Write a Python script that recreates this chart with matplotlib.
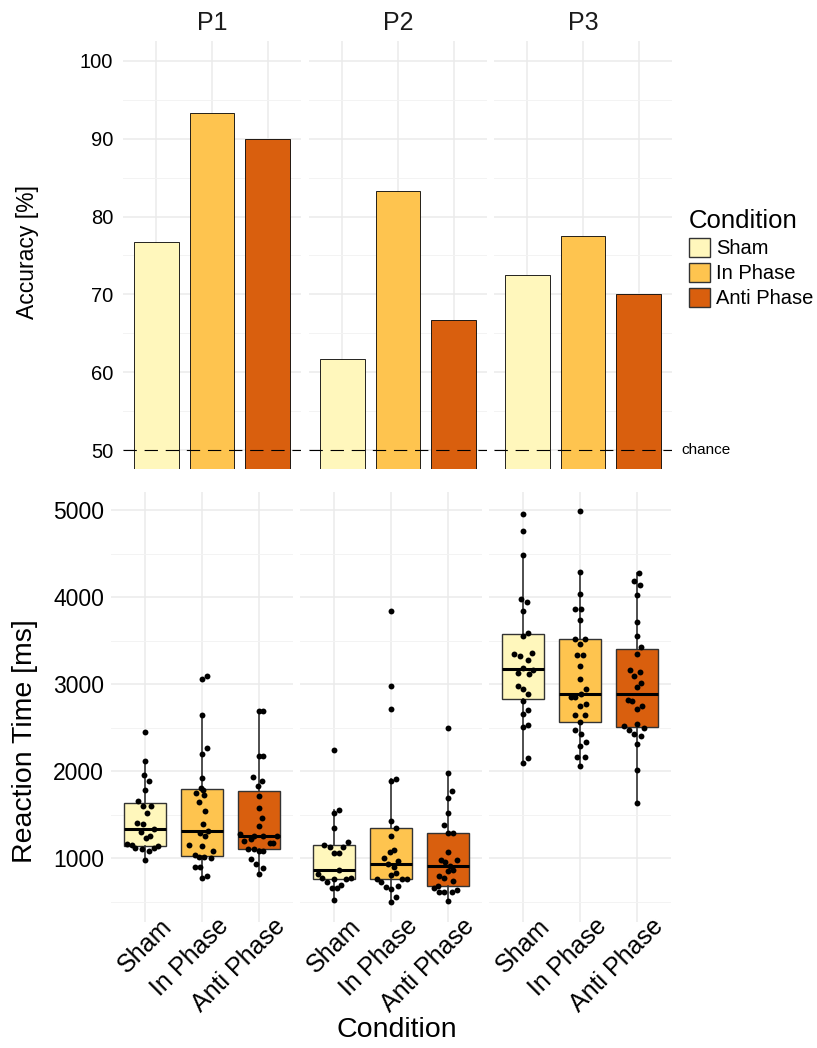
import matplotlib
matplotlib.use('Agg')
import matplotlib.pyplot as plt
import numpy as np
from matplotlib.patches import Patch
from matplotlib.transforms import ScaledTranslation

plt.rcParams['font.family'] = ['Liberation Sans', 'DejaVu Sans']

# --- data ---
participants = ['P1', 'P2', 'P3']
conditions = ['Sham', 'In Phase', 'Anti Phase']
colors = ['#fff7bc', '#fec44f', '#d95f0e']

accuracy_p1 = [76.7, 93.3, 90.0]
accuracy_p2 = [61.7, 83.3, 66.7]
accuracy_p3 = [72.5, 77.5, 70.0]
chance_level = 50

# reaction times [ms]
rt_p1_sham = [2450, 2116, 1959, 1894, 1790, 1663, 1606, 1602, 1518, 1403, 1395, 1337,
              1307, 1261, 1230, 1165, 1153, 1138, 1119, 1115, 1107, 1088, 985]
rt_p1_in = [770, 800, 896, 904, 1000, 1012, 1019, 1043, 1088, 1146, 1157, 1261, 1290,
            1318, 1395, 1541, 1648, 1729, 1756, 1780, 1810, 1924, 2204, 2266, 2641, 3056, 3094]
rt_p1_anti = [2687, 2687, 2181, 2181, 1932, 1830, 1894, 1713, 1579, 1460, 1376, 1280, 1261,
              1261, 1261, 1196, 1222, 1172, 1172, 1107, 1107, 1088, 1088, 992, 935, 889, 820]
rt_p2_sham = [2243, 1560, 1522, 1345, 1184, 1153, 1134, 1134, 1061, 1061, 870, 820, 774,
              774, 760, 760, 724, 697, 659, 659, 521]
rt_p2_in = [3838, 2975, 2710, 1913, 1894, 1433, 1345, 1261, 1096, 1069, 1004, 973, 935,
            896, 827, 812, 762, 762, 762, 724, 686, 666, 647, 559, 494]
rt_p2_anti = [2500, 1982, 1779, 1694, 1518, 1387, 1288, 1288, 1077, 981, 981, 954, 912,
              870, 858, 793, 770, 735, 680, 659, 636, 617, 609, 609, 513]
rt_p3_sham = [4954, 4762, 4482, 3984, 3945, 3838, 3589, 3558, 3351, 3324, 3359, 3282, 3190,
              3128, 3121, 3159, 2975, 2941, 2891, 2806, 2707, 2661, 2534, 2507, 2151, 2093]
rt_p3_in = [4988, 4283, 4034, 3869, 3869, 3734, 3516, 3516, 3466, 3339, 3339, 3210, 3064,
            2941, 2852, 2852, 2891, 2776, 2745, 2641, 2641, 2565, 2477, 2423, 2335, 2285,
            2162, 2162, 2066]
rt_p3_anti = [4279, 4187, 4137, 4030, 3715, 3554, 3428, 3343, 3159, 3140, 3090, 3013, 2967,
              2814, 2802, 2745, 2718, 2546, 2515, 2469, 2500, 2430, 2400, 2315, 2020, 1637]

# horizontal jitter of each point (category units), same order as above
jit_p1_sham = [0, 0, -.02, .06, 0, -.12, -.04, .11, .03, -.15, -.04, .16, -.08, .09, .02,
               -.32, -.23, .23, -.18, .15, -.06, .06, 0]
jit_p1_in = [0, .09, -.04, -.13, .15, .04, -.06, -.13, .19, 0, -.22, .05, -.03, .10, .01,
             .06, -.05, .03, -.10, .02, -.02, 0, 0, .09, 0, 0, .09]
jit_p1_anti = [0, .08, 0, .08, -.10, -.02, .06, .01, 0, .06, 0, -.33, -.09, .08, .31, -.26,
               -.13, .19, .24, -.19, -.09, .01, .08, -.13, -.05, .08, 0]
jit_p2_sham = [0, .09, 0, 0, .25, -.17, -.08, .16, 0, .09, .08, -.29, -.22, .29, 0, .21,
               -.13, .12, -.04, .05, 0]
jit_p2_in = [0, 0, 0, .09, 0, 0, .08, 0, .06, -.02, -.12, .12, -.05, .05, .09, 0, -.25, .19,
             .28, -.17, .12, -.09, 0, .08, 0]
jit_p2_anti = [0, 0, .07, 0, 0, -.06, 0, .09, 0, -.12, .16, -.05, .03, .09, 0, -.15, -.06,
               .09, -.18, -.24, .16, -.15, -.06, .08, 0]
jit_p3_sham = [0, 0, 0, -.04, .06, 0, .08, 0, -.16, -.06, .16, .08, 0, -.09, .10, .17, -.09,
               0, .08, 0, .08, 0, .08, 0, .08, 0]
jit_p3_in = [0, 0, 0, -.08, .02, 0, -.08, .08, 0, -.05, .06, 0, 0, .10, -.15, -.08, .02,
             .10, 0, -.08, .08, 0, -.08, .02, .10, 0, -.06, .08, 0]
jit_p3_anti = [.03, -.05, .06, 0, 0, 0, .07, 0, -.12, .05, -.05, .08, 0, -.16, -.08, .09, 0,
               0, -.22, -.13, .12, -.05, .07, 0, 0, 0]

accuracy = [accuracy_p1, accuracy_p2, accuracy_p3]
rt = [[rt_p1_sham, rt_p1_in, rt_p1_anti],
      [rt_p2_sham, rt_p2_in, rt_p2_anti],
      [rt_p3_sham, rt_p3_in, rt_p3_anti]]
jit = [[jit_p1_sham, jit_p1_in, jit_p1_anti],
       [jit_p2_sham, jit_p2_in, jit_p2_anti],
       [jit_p3_sham, jit_p3_in, jit_p3_anti]]

# --- layout (pixels) ---
W, H = 817, 1048
fig = plt.figure(figsize=(W / 100, H / 100), dpi=100)


def px_axes(left, top, width, height):
    return fig.add_axes([left / W, 1 - (top + height) / H, width / W, height / H])


def minimal(ax):
    for s in ax.spines.values():
        s.set_visible(False)
    ax.tick_params(which='both', length=0, colors='black')
    ax.set_axisbelow(True)
    ax.grid(which='major', color='#ebebeb', linewidth=1.1)
    ax.grid(which='minor', axis='y', color='#f3f3f3', linewidth=0.7)


top_lefts = [123, 309, 494]
bot_lefts = [111, 300, 489]

# top row: accuracy bars
for k, left in enumerate(top_lefts):
    ax = px_axes(left, 41.5, 178, 428)
    minimal(ax)
    ax.bar(range(3), accuracy[k], width=0.8, color=colors, edgecolor='black',
           linewidth=0.6, zorder=2)
    ax.axhline(chance_level, color='black', linewidth=0.8, dashes=(12, 7), zorder=3)
    ax.set_xlim(-0.6, 2.6)
    ax.set_ylim(47.5, 102.5)
    ax.set_xticks([0, 1, 2])
    ax.set_xticklabels([])
    ax.set_yticks(np.arange(50, 101, 10))
    ax.set_yticks(np.arange(55, 100, 10), minor=True)
    ax.tick_params(axis='y', labelsize=14.5, pad=7)
    if k > 0:
        ax.tick_params(axis='y', labelleft=False)
    ax.set_title(participants[k], fontsize=18, pad=8, color='#1a1a1a')
    if k == 2:
        ax.annotate('chance', xy=(1, chance_level), xycoords=('axes fraction', 'data'),
                    xytext=(7, 0), textcoords='offset points', va='center',
                    fontsize=11, annotation_clip=False)

# bottom row: reaction time boxplots + points
for k, left in enumerate(bot_lefts):
    ax = px_axes(left, 491.5, 182, 430.5)
    minimal(ax)
    bp = ax.boxplot(rt[k], positions=[0, 1, 2], widths=0.75, patch_artist=True,
                    showfliers=False, showcaps=False,
                    medianprops=dict(color='black', linewidth=2.2),
                    whiskerprops=dict(color='#333333', linewidth=1.2),
                    boxprops=dict(edgecolor='#333333', linewidth=1.0))
    for patch, c in zip(bp['boxes'], colors):
        patch.set_facecolor(c)
    for i in range(3):
        ax.scatter(i + np.array(jit[k][i]), rt[k][i], s=18, color='black',
                   linewidths=0, zorder=4)
    ax.set_xlim(-0.6, 2.6)
    ax.set_ylim(269, 5213)
    ax.set_yticks(np.arange(1000, 5001, 1000))
    ax.set_yticks(np.arange(500, 5000, 1000), minor=True)
    ax.tick_params(axis='y', labelsize=16.5, pad=5)
    if k > 0:
        ax.tick_params(axis='y', labelleft=False)
    ax.set_xticks([0, 1, 2])
    ax.set_xticklabels(conditions, rotation=45, ha='right', va='top',
                       rotation_mode='anchor', fontsize=18)
    ax.tick_params(axis='x', pad=0)
    shift = ScaledTranslation(14 / 100, 8 / 100, fig.dpi_scale_trans)
    for lab in ax.get_xticklabels():
        lab.set_transform(lab.get_transform() + shift)

# axis titles
fig.text(28 / W, 1 - 252 / H, 'Accuracy [%]', rotation=90, ha='center', va='center',
         fontsize=16.5)
fig.text(25 / W, 1 - 741 / H, 'Reaction Time [ms]', rotation=90, ha='center',
         va='center', fontsize=20.5)
fig.text(397 / W, 1 - 1030 / H, 'Condition', ha='center', va='center', fontsize=20.5)

# legend
handles = [Patch(facecolor=c, edgecolor='#333333', linewidth=1.0, label=l)
           for c, l in zip(colors, conditions)]
fig.legend(handles=handles, title='Condition', loc='upper left',
           bbox_to_anchor=(689 / W, 1 - 209 / H), frameon=False, fontsize=14.5,
           title_fontsize=18.5, handlelength=1.05, handleheight=1.05, handletextpad=0.3,
           labelspacing=0.24, borderpad=0, borderaxespad=0, alignment='left')

fig.savefig('out.png', dpi=100)
